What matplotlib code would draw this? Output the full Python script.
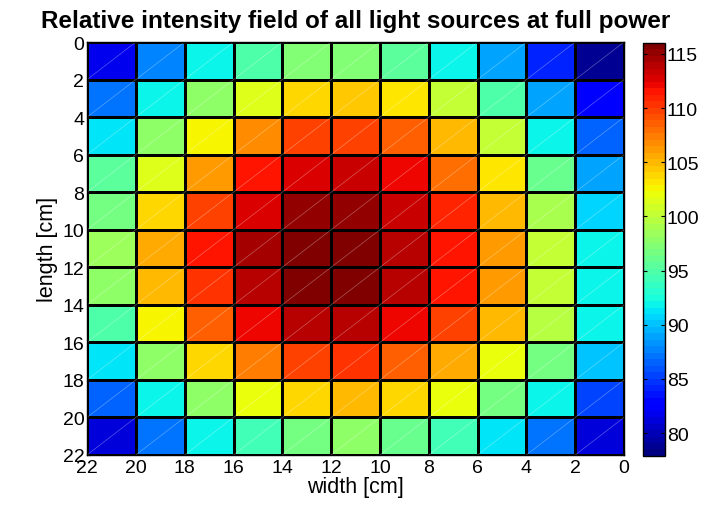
import numpy as np
import matplotlib
matplotlib.use("Agg")
import matplotlib.pyplot as plt
from matplotlib.collections import LineCollection

plt.rcParams['font.family'] = ['Liberation Sans', 'DejaVu Sans']

# cell edges in cm (x runs 22 -> 0 left to right, y 0 -> 22 top to bottom)
x_edges = [22, 20, 18, 16, 14, 12, 10, 8, 6, 4, 2, 0]
y_edges = [0, 2, 4, 6, 8, 10, 12, 14, 16, 18, 20, 22]
ticks = [0, 2, 4, 6, 8, 10, 12, 14, 16, 18, 20, 22]
cbar_ticks = [80, 85, 90, 95, 100, 105, 110, 115]

# relative intensity, rows top->bottom, columns left->right as displayed
row0 = [82.0, 87.5, 92.0, 94.7, 97.0, 97.3, 95.2, 92.0, 88.9, 84.2, 78.8]
row1 = [87.2, 92.0, 98.0, 101.7, 103.9, 104.5, 103.2, 100.2, 94.7, 88.9, 82.3]
row2 = [91.2, 97.6, 102.8, 106.8, 109.5, 109.9, 108.7, 105.0, 100.2, 92.0, 86.4]
row3 = [95.3, 101.2, 106.0, 111.5, 112.5, 113.4, 112.0, 108.1, 103.2, 96.1, 88.9]
row4 = [96.5, 103.9, 109.5, 113.0, 114.9, 115.0, 113.4, 110.8, 105.0, 98.9, 90.8]
row5 = [98.3, 105.6, 111.3, 114.6, 116.0, 116.0, 113.9, 111.5, 106.2, 100.5, 92.0]
row6 = [97.6, 105.0, 110.4, 114.1, 115.6, 116.0, 113.9, 111.5, 106.2, 100.3, 92.0]
row7 = [94.7, 102.8, 108.3, 111.9, 114.1, 114.1, 111.9, 109.5, 105.0, 99.7, 91.8]
row8 = [91.2, 98.1, 103.9, 107.4, 110.0, 110.6, 108.7, 105.6, 102.3, 96.5, 90.1]
row9 = [86.6, 92.0, 98.1, 102.3, 103.9, 105.0, 103.9, 101.9, 96.6, 92.0, 85.4]
row10 = [81.2, 87.2, 91.8, 94.3, 96.6, 98.0, 96.1, 94.2, 91.4, 87.2, 81.0]

data = np.array([row0, row1, row2, row3, row4, row5, row6, row7, row8, row9, row10])

fig = plt.figure(figsize=(7.02, 5.06), dpi=100)
ax = fig.add_axes([0.124, 0.099, 0.765, 0.816])
cax = fig.add_axes([0.916, 0.097, 0.032, 0.816])

cmap = plt.get_cmap('jet', 64)
mesh = ax.pcolormesh(x_edges, y_edges, data, cmap=cmap, vmin=77.9, vmax=116.0,
                     edgecolors='black', linewidth=0.9)

# faint diagonal render lines seen in each cell
segs = []
for i in range(len(y_edges) - 1):
    for j in range(len(x_edges) - 1):
        segs.append([(x_edges[j], y_edges[i + 1]), (x_edges[j + 1], y_edges[i])])
ax.add_collection(LineCollection(segs, colors='white', linewidths=0.5, alpha=0.35))

ax.set_xlim(22, 0)
ax.set_ylim(22, 0)
ax.set_xticks(ticks)
ax.set_yticks(ticks)
ax.tick_params(direction='in', length=3, labelsize=14, top=True, right=True)
ax.tick_params(axis='x', pad=3)
ax.tick_params(axis='y', pad=2)
for s in ax.spines.values():
    s.set_linewidth(1.0)
ax.set_xlabel("width [cm]", fontsize=15.5, labelpad=0)
ax.set_ylabel("length [cm]", fontsize=15.5, labelpad=3)
ax.set_title("Relative intensity field of all light sources at full power",
             fontsize=17.5, fontweight='bold', pad=11)

cb = fig.colorbar(mesh, cax=cax, ticks=cbar_ticks)
cb.outline.set_linewidth(1.0)
cax.tick_params(direction='in', length=3, labelsize=14, left=True, right=True, pad=1)

fig.savefig("out.png", dpi=100)
